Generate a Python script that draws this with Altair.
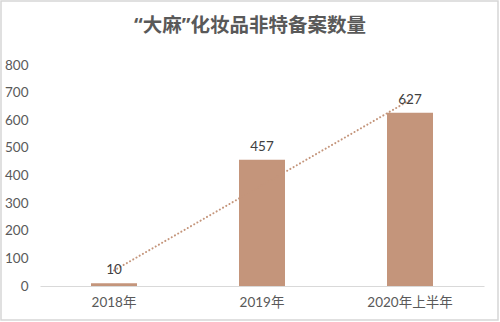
import altair as alt
import numpy as np
import pandas as pd

categories = ["2018年", "2019年", "2020年上半年"]
values = [10, 457, 627]
y_ticks = [0, 100, 200, 300, 400, 500, 600, 700, 800]
title_text = "“大麻”化妆品非特备案数量"

# linear trendline (like Excel) fitted from the values
idx = np.arange(1, len(values) + 1)
slope, intercept = np.polyfit(idx, values, 1)
trend = [float(slope * i + intercept) for i in idx]

df = pd.DataFrame({"cat": categories, "value": values, "trend": trend})

BAR = "#C4957B"
FONT = "Lato, Noto Sans CJK SC, sans-serif"

x_scale = alt.Scale(paddingInner=0, paddingOuter=0)
x_axis = alt.Axis(labelAngle=0, ticks=False, domainColor="#D9D9D9",
                  domainWidth=1, labelColor="#595959", labelFontSize=13.5,
                  labelFont=FONT, labelPadding=9)
y_scale = alt.Scale(domain=[0, 800], nice=False)
y_axis = alt.Axis(values=y_ticks, grid=False, domain=False, ticks=False,
                  labelOverlap=False, labelColor="#595959", labelFontSize=13.5,
                  labelFont=FONT, labelPadding=12)


def xe():
    return alt.X("cat:N", sort=categories, title=None, scale=x_scale, axis=x_axis)


def ye(field):
    return alt.Y(f"{field}:Q", title=None, scale=y_scale, axis=y_axis)


base = alt.Chart(df)

bars = base.mark_bar(size=46, color=BAR).encode(x=xe(), y=ye("value"))

line = base.mark_line(color=BAR, strokeWidth=2, strokeDash=[0.1, 3.6],
                      strokeCap="round").encode(x=xe(), y=ye("trend"))

labels = base.mark_text(baseline="bottom", dy=-6, fontSize=13.5, color="#404040",
                        font=FONT).encode(
    x=xe(), y=ye("value"), text=alt.Text("value:Q"),
)

border = alt.Chart(pd.DataFrame({"a": [0]})).mark_rect(
    filled=False, stroke="#D6D6D6", strokeWidth=1.5
).encode(x=alt.value(-39), x2=alt.value(458), y=alt.value(-64), y2=alt.value(255))

chart = alt.layer(bars, line, labels, border).properties(
    width=444,
    height=221,
    padding={"left": 40, "top": 65, "right": 16, "bottom": 36},
    autosize=alt.AutoSizeParams(type="none"),
    title=alt.TitleParams(title_text, fontSize=19.5, fontWeight="bold",
                          color="#595959", font="Noto Sans, Noto Sans CJK SC",
                          anchor="middle", frame="group", dx=-12, dy=36, offset=0),
    background="white",
).configure_view(stroke=None)

chart.save("out.html", embed_options={"renderer": "svg", "actions": False})
